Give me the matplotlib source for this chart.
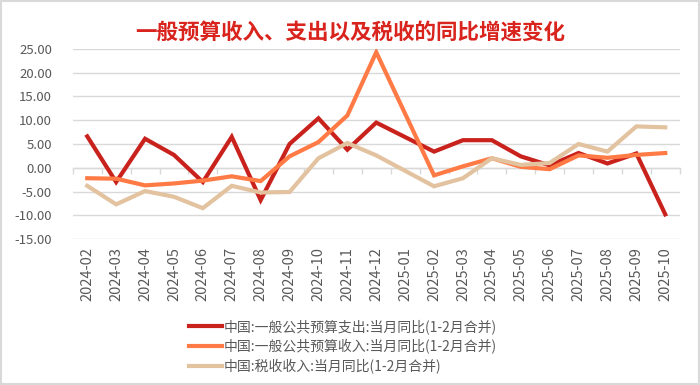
import numpy as np
import matplotlib
matplotlib.use("Agg")
import matplotlib.pyplot as plt
from matplotlib.patches import Rectangle

plt.rcParams['font.family'] = ['Noto Sans CJK SC', 'DejaVu Sans']

months = ["2024-02", "2024-03", "2024-04", "2024-05", "2024-06", "2024-07", "2024-08",
          "2024-09", "2024-10", "2024-11", "2024-12", "2025-01", "2025-02", "2025-03",
          "2025-04", "2025-05", "2025-06", "2025-07", "2025-08", "2025-09", "2025-10"]

nan = np.nan
expenditure = [6.6, -3.0, 6.1, 2.7, -3.0, 6.5, -6.8, 5.0, 10.4, 3.8, 9.5, nan,
               3.4, 5.8, 5.8, 2.4, 0.5, 3.1, 0.9, 3.0, -9.8]
revenue = [-2.2, -2.3, -3.7, -3.3, -2.7, -1.8, -2.8, 2.4, 5.4, 11.0, 24.3, nan,
           -1.6, 0.3, 2.0, 0.2, -0.3, 2.6, 2.1, 2.7, 3.1]
tax = [-3.8, -7.7, -4.9, -6.1, -8.5, -3.8, -5.2, -5.1, 2.0, 5.2, 2.6, nan,
       -3.9, -2.2, 2.0, 0.6, 1.0, 5.0, 3.4, 8.7, 8.5]

labels = ["中国:一般公共预算支出:当月同比(1-2月合并)",
          "中国:一般公共预算收入:当月同比(1-2月合并)",
          "中国:税收收入:当月同比(1-2月合并)"]
colors = ["#C9211B", "#FF7A45", "#E2C29F"]
title = "一般预算收入、支出以及税收的同比增速变化"
yticks = [-15, -10, -5, 0, 5, 10, 15, 20, 25]

fig = plt.figure(figsize=(7, 3.85), dpi=100)
ax = fig.add_axes([0.104, 0.379, 0.867, 0.494])

x = np.arange(len(months))
for vals, c, lab in zip([expenditure, revenue, tax], colors, labels):
    v = np.array(vals, dtype=float)
    m = ~np.isnan(v)
    ax.plot(x[m], v[m], color=c, lw=3.0, label=lab, solid_joinstyle='miter', zorder=3)

ax.set_xlim(-0.5, len(months) - 0.5)
ax.set_ylim(-15, 25)
ax.set_yticks(yticks)
ax.set_yticklabels([f"{t:.2f}" for t in yticks], color="#595959", fontsize=9.5)
ax.set_xticks(x)
ax.set_xticklabels(months, rotation=90, color="#595959", fontsize=10.5)
ax.tick_params(axis='y', length=0, pad=15)
ax.tick_params(axis='x', length=0, pad=6)
ax.grid(axis='y', color="#D9D9D9", lw=1.0)
ax.set_axisbelow(True)
for s in ax.spines.values():
    s.set_visible(False)

# zero axis with category tick marks
sec = ax.secondary_xaxis(0.375)
sec.set_xticks(np.arange(-0.5, len(months), 1.0))
sec.set_xticklabels([])
sec.tick_params(axis='x', length=4, color="#D9D9D9", width=1)
sec.spines['bottom'].set_color("#D9D9D9")
sec.spines['bottom'].set_linewidth(1)

fig.text(0.5, 0.915, title, ha='center', va='center', fontsize=15.5,
         fontweight='bold', color="#D9231D")

leg = fig.legend(loc='upper center', ncol=1,
                 frameon=False, fontsize=10, handlelength=2.4, handletextpad=0.15,
                 labelspacing=0.35, borderaxespad=0)
for t in leg.get_texts():
    t.set_color("#595959")
leg.set_bbox_to_anchor((0.49, 0.185), transform=fig.transFigure)

fig.patches.append(Rectangle((0.001, 0.002), 0.997, 0.996, transform=fig.transFigure,
                             fill=False, edgecolor="#D9D9D9", lw=1.5))

fig.savefig("out.png", dpi=100)
